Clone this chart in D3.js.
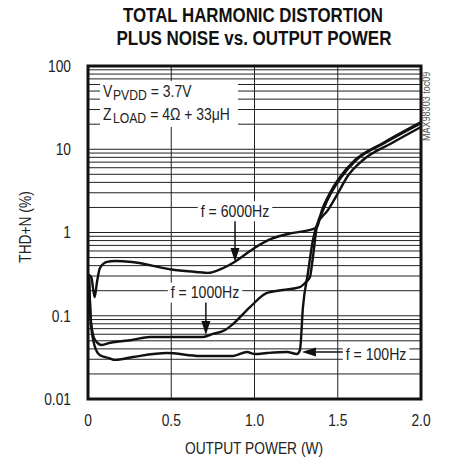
<!DOCTYPE html>
<html>
<head>
<meta charset="utf-8">
<script src="https://cdn.jsdelivr.net/npm/d3@7"></script>
<style>
  body { margin: 0; background: #fff; }
  svg text { font-family: "Liberation Sans", Arial, sans-serif; fill: #222; }
</style>
</head>
<body>
<div id="chart"></div>
<script>
// tick labels
const xTicks = [0, 0.5, 1.0, 1.5, 2.0];
const xTickLabels = ['0', '0.5', '1.0', '1.5', '2.0'];
const yTicks = [0.01, 0.1, 1, 10, 100];
const yTickLabels = ['0.01', '0.1', '1', '10', '100'];

// f = 6000Hz
const p6000 = [0.005, 0.02, 0.04, 0.054, 0.072, 0.114, 0.162, 0.264, 0.5, 0.65, 0.72, 0.8, 0.88, 1.0, 1.1, 1.2, 1.3, 1.351, 1.375, 1.405, 1.453, 1.514, 1.604, 1.772, 2.0];
const thd6000 = [0.31, 0.29, 0.168, 0.254, 0.375, 0.443, 0.455, 0.443, 0.36, 0.336, 0.327, 0.365, 0.443, 0.652, 0.836, 0.96, 1.04, 1.1, 1.16, 1.86, 2.98, 4.64, 7.43, 11.9, 21.2];

// f = 1000Hz
const p1000 = [0.006, 0.018, 0.042, 0.084, 0.126, 0.264, 0.372, 0.583, 0.69, 0.75, 0.823, 0.871, 0.973, 1.075, 1.171, 1.273, 1.309, 1.333, 1.351, 1.372, 1.412, 1.46, 1.522, 1.612, 1.781, 2.0];
const thd1000 = [0.3, 0.084, 0.0512, 0.0446, 0.047, 0.0512, 0.0556, 0.0556, 0.0556, 0.0604, 0.0674, 0.0796, 0.127, 0.188, 0.204, 0.221, 0.254, 0.292, 0.508, 1.1, 1.86, 2.98, 4.64, 7.43, 11.9, 20.6];

// f = 100Hz
const p100 = [0.006, 0.018, 0.042, 0.072, 0.126, 0.162, 0.27, 0.474, 0.673, 0.871, 0.955, 1.003, 1.075, 1.195, 1.255, 1.273, 1.291, 1.321, 1.351, 1.375, 1.441, 1.502, 1.556, 1.652, 1.826, 2.0];
const thd100 = [0.3, 0.08, 0.042, 0.0336, 0.031, 0.0295, 0.032, 0.0357, 0.0329, 0.0329, 0.0367, 0.0347, 0.0357, 0.0367, 0.0347, 0.0388, 0.127, 0.327, 0.813, 1.23, 1.86, 2.98, 4.64, 7.43, 11.9, 18.5];

// curve labels: label centre and arrow tip, in data units
const labelNames = ['f = 6000Hz', 'f = 1000Hz', 'f = 100Hz'];
const labelAt = [[0.883, 1.8], [0.703, 0.19], [1.73, 0.0347]];
const arrowTip = [[0.883, 0.443], [0.708, 0.0587], [1.285, 0.0367]];

// test conditions: [symbol, subscript, value]
const conditions = [['V', 'PVDD', '= 3.7V'], ['Z', 'LOAD', '= 4Ω + 33μH']];

const W = 449, H = 462;
const x = d3.scaleLinear().domain([0, 2]).range([88, 421]);
const y = d3.scaleLog().domain([0.01, 100]).range([399, 66]);

const svg = d3.select('#chart').append('svg')
  .attr('width', W).attr('height', H);

// squeeze text horizontally, the sheet uses a condensed face
function condense(sel, k = 0.86) {
  sel.each(function () {
    const w = this.getComputedTextLength();
    d3.select(this).attr('textLength', w * k).attr('lengthAdjust', 'spacingAndGlyphs');
  });
  return sel;
}

// title
svg.append('text')
  .attr('x', 253).attr('y', 22)
  .attr('text-anchor', 'middle')
  .attr('textLength', 260).attr('lengthAdjust', 'spacingAndGlyphs')
  .style('font-size', '20px').style('font-weight', 'bold').style('fill', '#111')
  .text('TOTAL HARMONIC DISTORTION');
svg.append('text')
  .attr('x', 254).attr('y', 45)
  .attr('text-anchor', 'middle')
  .attr('textLength', 275).attr('lengthAdjust', 'spacingAndGlyphs')
  .style('font-size', '20px').style('font-weight', 'bold').style('fill', '#111')
  .text('PLUS NOISE vs. OUTPUT POWER');

// grid
const minor = [];
[0.01, 0.1, 1, 10].forEach(d => { for (let k = 2; k <= 9; k++) minor.push(d * k); });
const grid = svg.append('g');
grid.selectAll('line.h')
  .data(minor.concat([0.1, 1, 10]))
  .join('line')
  .attr('x1', x(0)).attr('x2', x(2))
  .attr('y1', d => y(d)).attr('y2', d => y(d))
  .style('stroke', '#222').style('stroke-width', 1);
grid.selectAll('line.v')
  .data([0.5, 1.0, 1.5])
  .join('line')
  .attr('x1', d => x(d)).attr('x2', d => x(d))
  .attr('y1', y(0.01)).attr('y2', y(100))
  .style('stroke', '#222').style('stroke-width', 1);

// condition box
const cond = svg.append('g');
cond.append('rect')
  .attr('x', 100).attr('y', 81).attr('width', 138).attr('height', 46)
  .style('fill', '#fff');
conditions.forEach((c, i) => {
  const base = 97 + i * 23;
  const sym = cond.append('text').attr('x', 103).attr('y', base)
    .style('font-size', '16px').text(c[0]);
  condense(sym, 0.87);
  const sub = cond.append('text').attr('x', 113).attr('y', base + 3)
    .style('font-size', '14px').text(c[1]);
  condense(sub, 0.87);
  const subEnd = sub.node().getBBox().x + sub.node().getBBox().width;
  condense(cond.append('text').attr('x', subEnd + 4).attr('y', base)
    .style('font-size', '16px').text(c[2]), 0.87);
});

// curves
const line = d3.line()
  .x(d => x(d[0])).y(d => y(d[1]))
  .curve(d3.curveMonotoneX);
const series = [
  d3.zip(p6000, thd6000),
  d3.zip(p1000, thd1000),
  d3.zip(p100, thd100)
];
svg.append('g').selectAll('path')
  .data(series)
  .join('path')
  .attr('d', line)
  .style('fill', 'none').style('stroke', '#111')
  .style('stroke-width', 2.4).style('stroke-linejoin', 'round');

// curve labels + arrows
labelNames.forEach((name, i) => {
  const g = svg.append('g');
  const cx = x(labelAt[i][0]), cy = y(labelAt[i][1]);
  const txt = g.append('text')
    .attr('x', cx).attr('y', cy).attr('dy', '0.36em')
    .attr('text-anchor', 'middle')
    .style('font-size', '16px')
    .text(name);
  condense(txt, 0.88);
  const bb = txt.node().getBBox();
  g.insert('rect', 'text')
    .attr('x', bb.x - 3).attr('y', cy - 10)
    .attr('width', bb.width + 6).attr('height', 20)
    .style('fill', '#fff');

  const tx = x(arrowTip[i][0]), ty = y(arrowTip[i][1]);
  const head = 14, half = 4.5;
  if (i < 2) {
    const sy = cy + 10;
    g.append('line')
      .attr('x1', tx).attr('x2', tx).attr('y1', sy).attr('y2', ty - head)
      .style('stroke', '#111').style('stroke-width', 1.5);
    g.append('path')
      .attr('d', `M${tx},${ty} L${tx - half},${ty - head} L${tx + half},${ty - head} Z`)
      .style('fill', '#111');
  } else {
    const sx = bb.x - 3;
    g.append('line')
      .attr('x1', sx).attr('x2', tx + head).attr('y1', ty).attr('y2', ty)
      .style('stroke', '#111').style('stroke-width', 1.5);
    g.append('path')
      .attr('d', `M${tx},${ty} L${tx + head},${ty - half} L${tx + head},${ty + half} Z`)
      .style('fill', '#111');
  }
});

// frame
svg.append('rect')
  .attr('x', x(0)).attr('y', y(100))
  .attr('width', x(2) - x(0)).attr('height', y(0.01) - y(100))
  .style('fill', 'none').style('stroke', '#111').style('stroke-width', 3);

// axes tick labels
condense(svg.append('g').selectAll('text')
  .data(yTicks)
  .join('text')
  .attr('x', 71).attr('y', d => y(d)).attr('dy', '0.36em')
  .attr('text-anchor', 'end')
  .style('font-size', '16px')
  .text((d, i) => yTickLabels[i]));
condense(svg.append('g').selectAll('text')
  .data(xTicks)
  .join('text')
  .attr('x', d => x(d)).attr('y', 426)
  .attr('text-anchor', 'middle')
  .style('font-size', '16px')
  .text((d, i) => xTickLabels[i]));

// axis titles
condense(svg.append('text')
  .attr('x', 254).attr('y', 454)
  .attr('text-anchor', 'middle')
  .style('font-size', '16px')
  .text('OUTPUT POWER (W)'));
condense(svg.append('text')
  .attr('transform', 'translate(31,227) rotate(-90)')
  .attr('text-anchor', 'middle')
  .style('font-size', '16px')
  .text('THD+N (%)'));

// figure id
condense(svg.append('text')
  .attr('transform', 'translate(430,141) rotate(-90)')
  .style('font-size', '10.5px').style('fill', '#555')
  .text('MAX98303 toc09'));
</script>
</body>
</html>
